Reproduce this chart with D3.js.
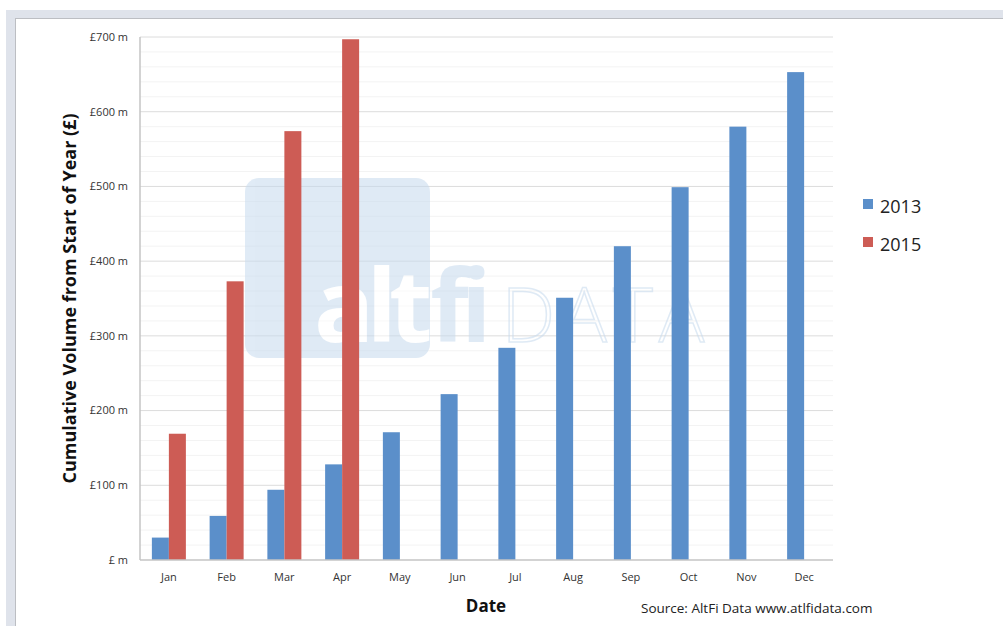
<!DOCTYPE html>
<html>
<head>
<meta charset="utf-8">
<script src="https://cdn.jsdelivr.net/npm/d3@7"></script>
<style>
  body { margin: 0; background: #fff; }
  svg { display: block; font-family: "Open Sans", "Liberation Sans", sans-serif; }
</style>
</head>
<body>
<div id="chart"></div>
<script>
// data (cumulative volume, £ m)
const months = ["Jan", "Feb", "Mar", "Apr", "May", "Jun", "Jul", "Aug", "Sep", "Oct", "Nov", "Dec"];
const seriesNames = ["2013", "2015"];
const vol2013 = [30, 59, 94, 128, 171, 222, 284, 351, 420, 499, 580, 653];
const vol2015 = [169, 373, 574, 697, null, null, null, null, null, null, null, null];
const yTicks = [0, 100, 200, 300, 400, 500, 600, 700];

const colors = { "2013": "#5b8fca", "2015": "#cd5c55" };

const W = 1003, H = 626;
const margin = { top: 37, right: 170, bottom: 66, left: 140 },
  width = W - margin.left - margin.right,
  height = H - margin.top - margin.bottom;

const svg = d3.select("#chart").append("svg")
  .attr("width", W).attr("height", H);

// window frame around the screenshot
svg.append("rect").attr("x", 6).attr("y", 10).attr("width", W - 6).attr("height", H - 10).attr("fill", "#dfe3eb");
svg.append("rect").attr("x", 15).attr("y", 18).attr("width", W - 15).attr("height", H - 18).attr("fill", "#bcbec3");
svg.append("rect").attr("x", 16).attr("y", 19).attr("width", W - 16).attr("height", H - 19).attr("fill", "#fff");

const g = svg.append("g").attr("transform", `translate(${margin.left},${margin.top})`);

const x0 = d3.scaleBand().domain(months).range([0, width]).padding(0);
const groupW = 34;
const x1 = d3.scaleBand().domain(seriesNames)
  .range([(x0.bandwidth() - groupW) / 2, (x0.bandwidth() + groupW) / 2]);
const y = d3.scaleLinear().domain([0, 700]).range([height, 0]);

// minor grid
g.append("g").selectAll("line")
  .data(d3.range(0, 701, 20).filter(v => v % 100 !== 0))
  .enter().append("line")
  .attr("x1", 0).attr("x2", width)
  .attr("y1", d => y(d)).attr("y2", d => y(d))
  .attr("stroke", "#f3f3f3").attr("stroke-width", 1);

// major grid
g.append("g").selectAll("line")
  .data(yTicks.filter(v => v > 0))
  .enter().append("line")
  .attr("x1", 0).attr("x2", width)
  .attr("y1", d => y(d)).attr("y2", d => y(d))
  .attr("stroke", "#dcdcdc").attr("stroke-width", 1);

// watermark
const wm = g.append("g").attr("opacity", 0.55);
wm.append("rect").attr("x", 105).attr("y", 141).attr("width", 185).attr("height", 180)
  .attr("rx", 14).attr("fill", "#c6daee");
const wmText = wm.append("text").attr("x", 174).attr("y", 305)
  .attr("font-size", 100).attr("font-weight", "bold").attr("letter-spacing", -8);
wmText.append("tspan").attr("fill", "#ffffff").text("alt");
wmText.append("tspan").attr("fill", "#c6daee").attr("dx", 6).text("fi");
wmText.append("tspan").attr("dx", 18).attr("font-size", 76).attr("font-weight", 300)
  .attr("letter-spacing", 6).attr("fill", "none")
  .attr("stroke", "#c6daee").attr("stroke-width", 1.5).text("DATA");

// bars
const rows = months.map((m, i) => ({ month: m, values: [
  { key: "2013", value: vol2013[i] },
  { key: "2015", value: vol2015[i] }
] }));

g.append("g").selectAll("g")
  .data(rows).enter().append("g")
  .attr("transform", d => `translate(${x0(d.month)},0)`)
  .selectAll("rect")
  .data(d => d.values.filter(v => v.value != null))
  .enter().append("rect")
  .attr("x", d => x1(d.key))
  .attr("width", x1.bandwidth())
  .attr("y", d => y(d.value))
  .attr("height", d => y(0) - y(d.value))
  .attr("fill", d => colors[d.key]);

// axes lines
g.append("line").attr("x1", 0).attr("x2", 0).attr("y1", 0).attr("y2", height)
  .attr("stroke", "#c4c4c4").attr("stroke-width", 1.5);
g.append("line").attr("x1", 0).attr("x2", width).attr("y1", height).attr("y2", height)
  .attr("stroke", "#c4c4c4").attr("stroke-width", 1.5);

// y tick labels
g.append("g").selectAll("text")
  .data(yTicks).enter().append("text")
  .attr("x", -12).attr("y", d => y(d)).attr("dy", "0.35em")
  .attr("text-anchor", "end").attr("font-size", 11).attr("fill", "#333")
  .text(d => d === 0 ? "£ m" : `£${d} m`);

// x tick labels
g.append("g").selectAll("text")
  .data(months).enter().append("text")
  .attr("x", d => x0(d) + x0.bandwidth() / 2).attr("y", height + 21)
  .attr("text-anchor", "middle").attr("font-size", 11).attr("fill", "#333")
  .text(d => d);

// axis titles
svg.append("text")
  .attr("transform", `translate(76,${margin.top + height / 2}) rotate(-90)`)
  .attr("text-anchor", "middle").attr("font-size", 18).attr("font-weight", "bold").attr("fill", "#111")
  .text("Cumulative Volume from Start of Year (£)");

svg.append("text")
  .attr("x", 486).attr("y", 612)
  .attr("text-anchor", "middle").attr("font-size", 17).attr("font-weight", "bold").attr("fill", "#111")
  .text("Date");

svg.append("text")
  .attr("x", 641).attr("y", 613)
  .attr("font-size", 13.5).attr("fill", "#222")
  .text("Source: AltFi Data www.atlfidata.com");

// legend
const legend = svg.append("g").selectAll("g")
  .data(seriesNames).enter().append("g")
  .attr("transform", (d, i) => `translate(863,${199 + i * 38})`);
legend.append("rect").attr("width", 10).attr("height", 10).attr("fill", d => colors[d]);
legend.append("text").attr("x", 17).attr("y", 8).attr("dy", "0.35em")
  .attr("font-size", 18).attr("fill", "#222").text(d => d);
</script>
</body>
</html>
